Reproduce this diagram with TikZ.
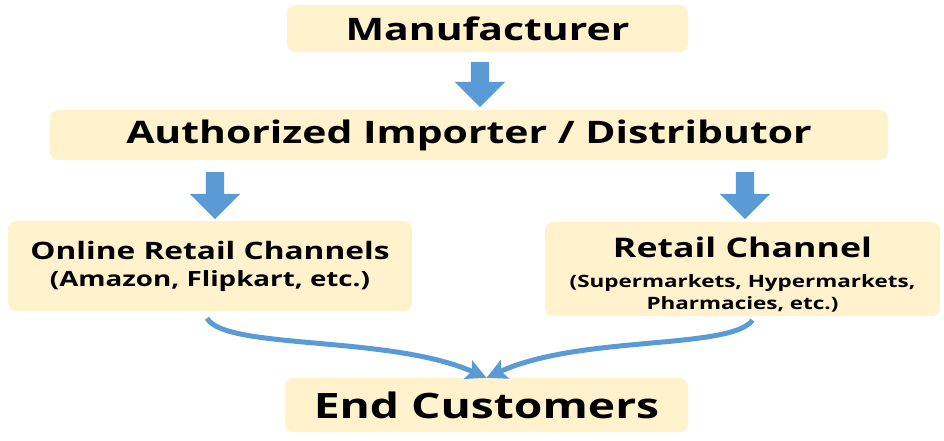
\documentclass[tikz,border=0pt]{standalone}
\usepackage{fontspec}
\setmainfont{Open Sans}[FakeStretch=1.32]
\usetikzlibrary{arrows.meta,shapes.arrows}

\definecolor{boxfill}{HTML}{FFF2CC}
\definecolor{arrowblue}{HTML}{5B9BD5}

\tikzset{
    stage/.style={fill=boxfill, rounded corners=8pt, align=center, inner sep=0pt, font=\bfseries},
    downarrow/.style={single arrow, fill=arrowblue, rotate=-90, inner sep=9pt,
        single arrow head extend=16pt, minimum height=#1, anchor=center},
    flow/.style={draw=arrowblue, line width=5pt, -{Stealth[length=20pt,width=20pt,inset=4pt]}}
}

\begin{document}
\begin{tikzpicture}[x=1pt, y=-1pt]
        \useasboundingbox (0, 0) rectangle (944, 440);

        % boxes
        \node[stage, minimum width=401pt, minimum height=47pt, font=\bfseries\fontsize{31}{36}\selectfont] (mfr) at (487.5, 28.5) {Manufacturer};
        \node[stage, minimum width=838pt, minimum height=50pt, font=\bfseries\fontsize{31}{36}\selectfont] (imp) at (469, 135) {Authorized Importer / Distributor};
        \node[stage, minimum width=404pt, minimum height=90pt, font=\bfseries\fontsize{24}{27}\selectfont] (online) at (210, 266)
            {Online Retail Channels\\
             \fontsize{21}{27}\selectfont (Amazon, Flipkart, etc.)};
        \node[stage, minimum width=395pt, minimum height=94pt, font=\bfseries\fontsize{27}{30}\selectfont] (retail) at (742.5, 269)
            {\rule{0pt}{32pt}Retail Channel\\
             \fontsize{17}{20}\selectfont (Supermarkets, Hypermarkets,\\[-8pt]
             \fontsize{17}{20}\selectfont Pharmacies, etc.)};
        \node[stage, minimum width=403pt, minimum height=54pt, font=\bfseries\fontsize{35}{40}\selectfont] (endc) at (486.5, 405) {End Customers};

        % block arrows
        \node[downarrow=45pt] (arrA) at (480, 80) {};
        \node[downarrow=47pt] (arrB) at (215, 191) {};
        \node[downarrow=47pt] (arrC) at (745, 191) {};

        % curved arrows
        \draw[flow] ([xshift=-3pt, yshift=-7pt]online.south) .. controls (225, 350) and (390, 335) .. (endc.north);
        \draw[flow] ([xshift=10pt, yshift=-4pt]retail.south) .. controls (730, 350) and (580, 335) .. (endc.north);
    \end{tikzpicture}
\end{document}
